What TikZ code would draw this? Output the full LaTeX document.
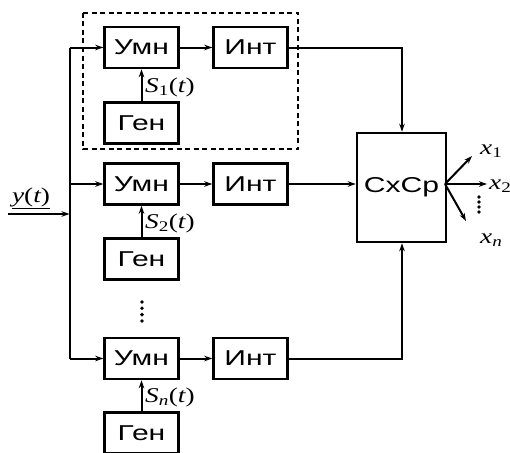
\documentclass[tikz,border=0pt]{standalone}
\usepackage{fontspec}
\setmainfont{Liberation Sans}
\newfontfamily\boxfont[FakeStretch=1.4]{Liberation Sans}
\newfontfamily\lblfont[FakeStretch=1.3]{Liberation Serif}
\usetikzlibrary{arrows.meta}
\newcommand\slab[1]{{\lblfont\fontsize{21}{23}\selectfont\itshape S\textsubscript{#1}\upshape(\itshape t\upshape)}}
\tikzset{
  blk/.style={draw, line width=2.5pt, minimum width=74pt, minimum height=41pt, inner sep=0pt,
    font=\boxfont\fontsize{21.5}{23}\selectfont},
  arr/.style={line width=2pt, -{Stealth[length=8pt,width=5.5pt]}},
  ln/.style={line width=2pt},
  grp/.style={draw, line width=2.1pt, dash pattern=on 5pt off 3.5pt},
  lbl/.style={inner sep=0pt, font=\lblfont\fontsize{21}{23}\selectfont},
  dotf/.style={fill=black}
}
\begin{document}
\begin{tikzpicture}[x=1pt,y=-1pt]
\useasboundingbox (0,0) rectangle (510,452);
% group
\draw[grp] (83,13) rectangle (298,149);
% row 1
\node[blk] (u1) at (141.5,47.5) {Умн};
\node[blk] (i1) at (250.5,47.5) {Инт};
\node[blk] (g1) at (141.5,123) {Ген};
% row 2
\node[blk] (u2) at (141.5,184) {Умн};
\node[blk] (i2) at (250.5,184) {Инт};
\node[blk] (g2) at (141.5,259) {Ген};
% row n
\node[blk] (un) at (141.5,358.5) {Умн};
\node[blk] (in) at (250.5,358.5) {Инт};
\node[blk] (gn) at (141.5,433) {Ген};
% combiner
\node[blk, minimum width=89pt, minimum height=109pt] (cc) at (401.5,187.5) {СхСр};
% bus
\coordinate (b1) at (69.5,47.5);
\coordinate (b2) at (69.5,184);
\coordinate (bn) at (69.5,358.5);
\coordinate (bi) at (69.5,214);
\coordinate (src) at (8,214);
\draw[ln] (b1) -- (bn);
\draw[arr] (src) -- (bi);
\node[lbl, anchor=south] (ylab) at (31,209) {\underline{\itshape y\upshape(\itshape t\upshape)}};
\draw[arr] (b1) -- (u1.west);
\draw[arr] (b2) -- (u2.west);
\draw[arr] (bn) -- (un.west);
% multipliers to integrators
\draw[arr] (u1) -- (i1);
\draw[arr] (u2) -- (i2);
\draw[arr] (un) -- (in);
% generators
\draw[arr] (g1) -- (u1);
\draw[arr] (g2) -- (u2);
\draw[arr] (gn) -- (un);
\node[lbl, anchor=west] (s1) at (145,87) {\slab{\upshape 1}};
\node[lbl, anchor=west] (s2) at (145,223) {\slab{\upshape 2}};
\node[lbl, anchor=west] (sn) at (145,397) {\slab{n}};
% integrators to combiner
\coordinate (c1) at (402,47.5);
\coordinate (cn) at (402,358.5);
\draw[arr] (i1.east) -- (c1) -- (c1 |- cc.north);
\draw[arr] (i2.east) -- (i2.east -| cc.west);
\draw[arr] (in.east) -- (cn) -- (cn |- cc.south);
% dots
\foreach \yy in {302,308.3,314.6,321} \fill[dotf] (142,\yy) circle (1.9pt);
% outputs
\coordinate (o0) at (445,184);
\coordinate (o1) at (472,156);
\coordinate (o2) at (487,184);
\coordinate (o3) at (466,221);
\draw[arr] (o0) -- (o1);
\draw[arr] (o0) -- (o2);
\draw[arr] (o0) -- (o3);
\foreach \yy in {197,202,207,212} \fill[dotf] (479,\yy) circle (1.9pt);
\node[lbl, anchor=west] (x1) at (480,151) {\itshape x\upshape\textsubscript{1}};
\node[lbl, anchor=west] (x2) at (489,186) {\itshape x\upshape\textsubscript{2}};
\node[lbl, anchor=west] (xn) at (480,240) {\itshape x\textsubscript{n}};
\end{tikzpicture}
\end{document}
